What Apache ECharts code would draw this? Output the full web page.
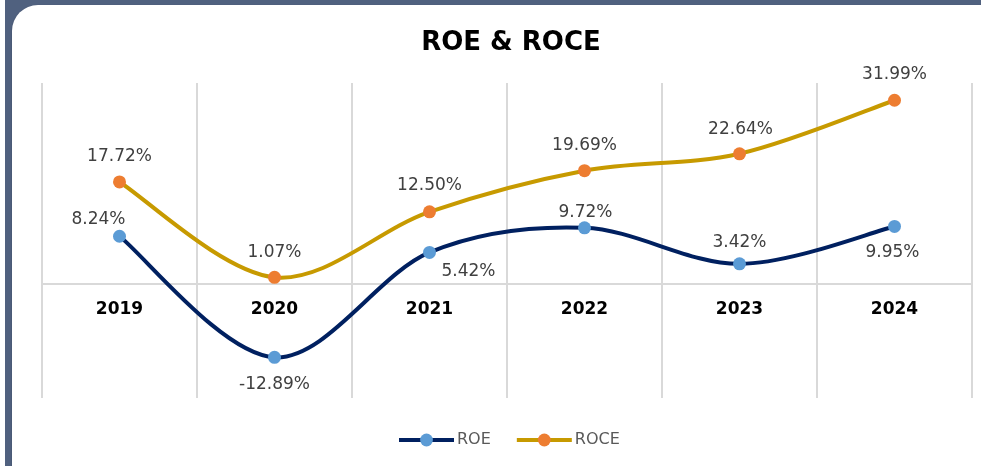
<!DOCTYPE html>
<html>
<head>
<meta charset="utf-8">
<script src="https://cdn.jsdelivr.net/npm/echarts@6/dist/echarts.min.js"></script>
<style>
    html, body {
        margin: 0;
        padding: 0;
        width: 981px;
        height: 466px;
        overflow: hidden;
        background: #50617f;
        font-family: "DejaVu Sans", sans-serif;
    }
    .side-card {
        position: absolute;
        left: -40px;
        top: -30px;
        width: 45px;
        height: 530px;
        background: #fff;
        border-radius: 26px;
    }
    .main-card {
        position: absolute;
        left: 12px;
        top: 5px;
        width: 1000px;
        height: 490px;
        background: #fff;
        border-radius: 26px;
        box-shadow: 0 1px 2px rgba(0, 0, 0, 0.25);
    }
    #chart {
        position: absolute;
        left: 0;
        top: 0;
        width: 981px;
        height: 466px;
    }
</style>
</head>
<body>
<div class="side-card"></div>
<div class="main-card"></div>
<div id="chart"></div>
<script>
const years = ['2019', '2020', '2021', '2022', '2023', '2024'];
const roe = [8.24, -12.89, 5.42, 9.72, 3.42, 9.95];
const roce = [17.72, 1.07, 12.50, 19.69, 22.64, 31.99];

// label offsets from each marker centre (Excel placed them by hand)
const roeLabelOffset = [[-21, -17], [0, 27], [39, 19], [1, -15], [0, -21], [-2, 26]];
const roceLabelOffset = [[0, -25], [0, -25], [0, -26], [0, -25], [1, -24], [0, -26]];

const ROE_LINE = '#002060';
const ROE_DOT = '#5b9bd5';
const ROCE_LINE = '#c79a00';
const ROCE_DOT = '#ed7d31';

const Y_MIN = -20;
const Y_MAX = 35;
const GRID_TOP = 83;
const GRID_BOTTOM = 68;
const GRID_H = 466 - GRID_TOP - GRID_BOTTOM;
// move the category axis (line + labels) up to the zero line
const zeroOffset = -GRID_H * (0 - Y_MIN) / (Y_MAX - Y_MIN);

function withLabels(values, offsets) {
    return values.map((v, i) => ({
        value: v,
        label: {offset: offsets[i]}
    }));
}

// Excel-style smoothing (catmull-rom), one bezier segment per data item
function smoothCurve(values, color) {
    const last = values.length - 1;
    return (params, api) => {
        const i = params.dataIndex;
        if (i >= last) return null;
        const pt = k => {
            const j = Math.max(0, Math.min(last, k));
            return api.coord([j, values[j]]);
        };
        const p0 = pt(i - 1), p1 = pt(i), p2 = pt(i + 1), p3 = pt(i + 2);
        return {
            type: 'bezierCurve',
            shape: {
                x1: p1[0], y1: p1[1],
                cpx1: p1[0] + (p2[0] - p0[0]) / 6,
                cpy1: p1[1] + (p2[1] - p0[1]) / 6,
                cpx2: p2[0] - (p3[0] - p1[0]) / 6,
                cpy2: p2[1] - (p3[1] - p1[1]) / 6,
                x2: p2[0], y2: p2[1]
            },
            style: {stroke: color, lineWidth: 4, fill: null, lineCap: 'round'}
        };
    };
}

const labelStyle = {
    show: true,
    position: 'inside',
    color: '#404040',
    fontSize: 17,
    fontFamily: 'DejaVu Sans',
    formatter: p => p.value.toFixed(2) + '%'
};

const chart = echarts.init(document.getElementById('chart'));
chart.setOption({
    animation: false,
    title: {
        text: 'ROE & ROCE',
        left: 506,
        top: 25,
        textAlign: 'center',
        textStyle: {
            color: '#000',
            fontSize: 26,
            fontWeight: 'bold',
            fontFamily: 'DejaVu Sans'
        }
    },
    legend: {
        bottom: 13,
        left: 392,
        itemWidth: 55,
        itemHeight: 16,
        itemGap: 24,
        lineStyle: {width: 4, opacity: 1},
        textStyle: {
            color: '#595959',
            fontSize: 16,
            fontFamily: 'DejaVu Sans',
            padding: [0, 0, 0, -2]
        },
        data: ['ROE', 'ROCE']
    },
    grid: {
        left: 42,
        right: 9,
        top: GRID_TOP,
        bottom: GRID_BOTTOM
    },
    xAxis: {
        type: 'category',
        data: years,
        boundaryGap: true,
        offset: zeroOffset,
        axisLine: {
            onZero: false,
            lineStyle: {color: '#d9d9d9', width: 2}
        },
        axisTick: {show: false},
        axisLabel: {
            color: '#000',
            fontSize: 17,
            fontWeight: 'bold',
            fontFamily: 'DejaVu Sans',
            margin: 18
        },
        splitLine: {
            show: true,
            interval: 0,
            lineStyle: {color: '#d9d9d9', width: 2}
        }
    },
    yAxis: {
        type: 'value',
        min: Y_MIN,
        max: Y_MAX,
        show: false,
        splitLine: {show: false}
    },
    series: [
        {
            name: 'roe-curve',
            type: 'custom',
            data: roe.map((v, i) => [i, v]),
            encode: {x: 0, y: 1},
            renderItem: smoothCurve(roe, ROE_LINE),
            silent: true,
            z: 2
        },
        {
            name: 'roce-curve',
            type: 'custom',
            data: roce.map((v, i) => [i, v]),
            encode: {x: 0, y: 1},
            renderItem: smoothCurve(roce, ROCE_LINE),
            silent: true,
            z: 1
        },
        {
            name: 'ROE',
            type: 'line',
            data: withLabels(roe, roeLabelOffset),
            symbol: 'circle',
            symbolSize: 13,
            lineStyle: {color: ROE_LINE, width: 4, opacity: 0},
            itemStyle: {color: ROE_DOT},
            label: labelStyle,
            z: 4
        },
        {
            name: 'ROCE',
            type: 'line',
            data: withLabels(roce, roceLabelOffset),
            symbol: 'circle',
            symbolSize: 13,
            lineStyle: {color: ROCE_LINE, width: 4, opacity: 0},
            itemStyle: {color: ROCE_DOT},
            label: labelStyle,
            z: 3
        }
    ]
});
</script>
</body>
</html>
